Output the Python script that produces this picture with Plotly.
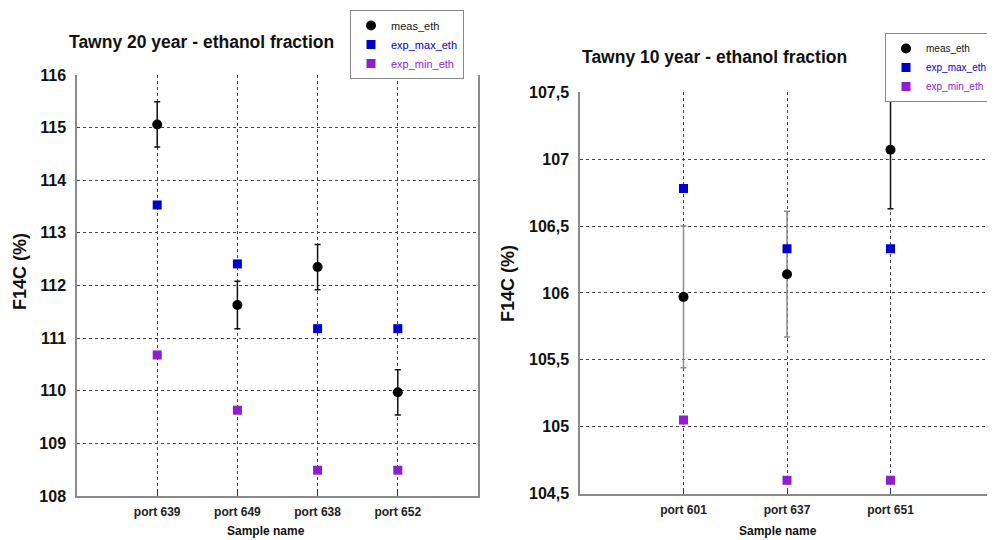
import plotly.graph_objects as go

# ---------------- data ----------------
left_samples = ["port 639", "port 649", "port 638", "port 652"]
left_meas = [115.06, 111.63, 112.35, 109.97]
left_meas_err = [0.43, 0.45, 0.43, 0.43]
left_exp_max = [113.53, 112.41, 111.18, 111.18]
left_exp_min = [110.68, 109.63, 108.49, 108.49]
left_yticks = [108, 109, 110, 111, 112, 113, 114, 115, 116]
left_yticktext = ["108", "109", "110", "111", "112", "113", "114", "115", "116"]

right_samples = ["port 601", "port 637", "port 651"]
right_meas = [105.97, 106.14, 107.07]
right_meas_err = [0.53, 0.47, 0.44]
right_exp_max = [106.78, 106.33, 106.33]
right_exp_min = [105.05, 104.60, 104.60]
right_yticks = [104.5, 105, 105.5, 106, 106.5, 107, 107.5]
right_yticktext = ["104,5", "105", "105,5", "106", "106,5", "107", "107,5"]

# ---------------- styles ----------------
BLACK = "#000000"
BLUE = "#0000cc"
PURPLE = "#8e1ed0"
FONT = "Liberation Sans, Arial, sans-serif"
right_err_colors = ["#8c8c8c", "#8c8c8c", "#111111"]

fig = go.Figure()

# ----- left panel -----
fig.add_trace(go.Scatter(
    x=left_samples, y=left_meas, mode="markers", name="meas_eth",
    marker=dict(symbol="circle", size=10, color=BLACK),
    error_y=dict(type="data", array=left_meas_err, color="#111111", thickness=1.5, width=3),
    xaxis="x", yaxis="y", legend="legend"))
fig.add_trace(go.Scatter(
    x=left_samples, y=left_exp_max, mode="markers",
    name='<span style="color:#0000cc">exp_max_eth</span>',
    marker=dict(symbol="square", size=9, color=BLUE),
    xaxis="x", yaxis="y", legend="legend"))
fig.add_trace(go.Scatter(
    x=left_samples, y=left_exp_min, mode="markers",
    name='<span style="color:#8e1ed0">exp_min_eth</span>',
    marker=dict(symbol="square", size=9, color=PURPLE),
    xaxis="x", yaxis="y", legend="legend"))

# ----- right panel -----
for i in range(len(right_samples)):
    fig.add_trace(go.Scatter(
        x=[right_samples[i]], y=[right_meas[i]], mode="markers", name="meas_eth",
        showlegend=(i == 0),
        marker=dict(symbol="circle", size=10, color=BLACK),
        error_y=dict(type="data", array=[right_meas_err[i]], color=right_err_colors[i],
                     thickness=1.5, width=3),
        xaxis="x2", yaxis="y2", legend="legend2"))
fig.add_trace(go.Scatter(
    x=right_samples, y=right_exp_max, mode="markers",
    name='<span style="color:#0000cc">exp_max_eth</span>',
    marker=dict(symbol="square", size=9, color=BLUE),
    xaxis="x2", yaxis="y2", legend="legend2"))
fig.add_trace(go.Scatter(
    x=right_samples, y=right_exp_min, mode="markers",
    name='<span style="color:#8e1ed0">exp_min_eth</span>',
    marker=dict(symbol="square", size=9, color=PURPLE),
    xaxis="x2", yaxis="y2", legend="legend2"))

W, H = 995, 540
OFF = 8  # page body margin offset of the figure in the browser
def px(x):
    return (x - OFF) / W
def py(y):
    return 1 - (y - OFF) / H

xaxis_common = dict(
    type="category", showgrid=True, gridcolor="#444444", griddash="dot", gridwidth=1,
    showline=True, linecolor="#8a8a8a", linewidth=1.5,
    ticks="inside", ticklen=5, tickcolor="#333333", ticklabelstandoff=4,
    tickfont=dict(family=FONT, size=12, color="#222222", weight="bold"),
    zeroline=False, fixedrange=True, automargin=False,
)
yaxis_common = dict(
    showgrid=True, gridcolor="#444444", griddash="dot", gridwidth=1,
    showline=True, linecolor="#8a8a8a", linewidth=1.5,
    ticks="outside", ticklen=6, tickcolor="rgba(0,0,0,0)",
    tickfont=dict(family=FONT, size=16, color="#111111", weight="bold"),
    zeroline=False, fixedrange=True, automargin=False,
)

fig.update_layout(
    width=W, height=H,
    margin=dict(l=0, r=0, t=0, b=0, autoexpand=False),
    paper_bgcolor="white", plot_bgcolor="white",
    font=dict(family=FONT, color="#111111"),
    xaxis=dict(xaxis_common, domain=[px(77), px(478)], range=[-1, 4], anchor="y"),
    yaxis=dict(yaxis_common, domain=[py(496), py(75)], range=[108, 116], anchor="x",
               tickvals=left_yticks, ticktext=left_yticktext, mirror=True),
    xaxis2=dict(xaxis_common, domain=[px(580), 1.0], range=[-1, 3.087], anchor="y2"),
    yaxis2=dict(yaxis_common, domain=[py(493.5), py(92.3)], range=[104.5, 107.5], anchor="x2",
                tickvals=right_yticks, ticktext=right_yticktext, mirror=True),
    legend=dict(x=px(350), y=py(10), xanchor="left", yanchor="top",
                bgcolor="white", bordercolor="#888888", borderwidth=1,
                tracegroupgap=0,
                font=dict(family=FONT, size=11, color="#111111")),
    legend2=dict(x=px(885), y=py(33), xanchor="left", yanchor="top",
                 bgcolor="white", bordercolor="#888888", borderwidth=1,
                 tracegroupgap=0,
                 font=dict(family=FONT, size=10, color="#111111")),
    showlegend=True,
)

annos = [
    dict(text="<b>Tawny 20 year - ethanol fraction</b>", x=px(201), y=py(41.7), size=17.5),
    dict(text="<b>Tawny 10 year - ethanol fraction</b>", x=px(714), y=py(56.7), size=17.5),
    dict(text="<b>Sample name</b>", x=px(266), y=py(531), size=12),
    dict(text="<b>Sample name</b>", x=px(778), y=py(531), size=12),
]
for a in annos:
    fig.add_annotation(text=a["text"], x=a["x"], y=a["y"], xref="paper", yref="paper",
                       xanchor="center", yanchor="middle", showarrow=False,
                       font=dict(family=FONT, size=a["size"], color="#111111"))
for (xx, yy) in [(20, 272), (508, 283)]:
    fig.add_annotation(text="<b>F14C (%)</b>", x=px(xx), y=py(yy), xref="paper", yref="paper",
                       xanchor="center", yanchor="middle", showarrow=False, textangle=-90,
                       font=dict(family=FONT, size=18, color="#111111"))

fig.write_html("out.html")
